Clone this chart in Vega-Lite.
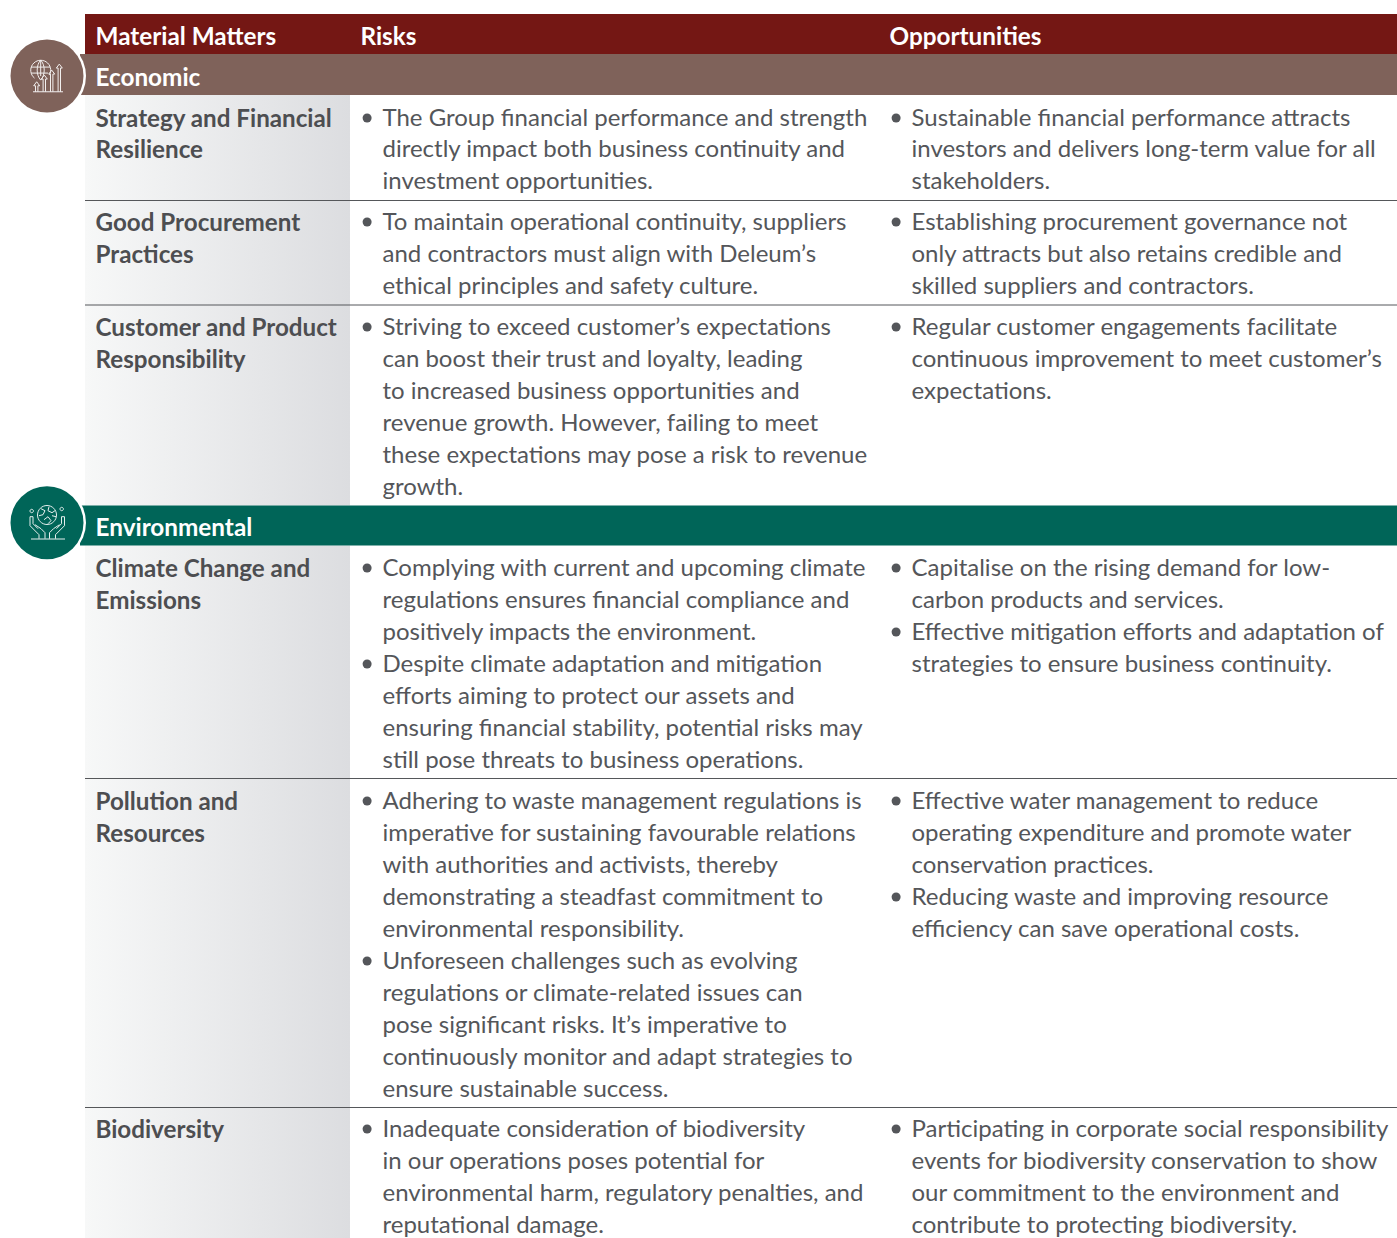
{
"$schema":"https://vega.github.io/schema/vega-lite/v6.json",
"width":1397,"height":1238,"padding":0,"autosize":{"type":"fit","contains":"padding"},"background":"white",
"config":{"view":{"stroke":null},"text":{"font":"Lato"}},
"datasets":{
"rows":[{"row":"Strategy and Financial Resilience","col":0,"col2":2,"line":1.5,"line2":4.5},{"row":"Good Procurement Practices","col":0,"col2":2,"line":4.5,"line2":7.5},{"row":"Customer and Product Responsibility","col":0,"col2":2,"line":7.5,"line2":13.5},{"row":"Climate Change and Emissions","col":0,"col2":2,"line":14.5,"line2":21.5},{"row":"Pollution and Resources","col":0,"col2":2,"line":21.5,"line2":31.5},{"row":"Biodiversity","col":0,"col2":2,"line":31.5,"line2":35.5}],
"bands":[{"band":"Header","col":0,"col2":7,"line":-0.5,"line2":0.5},{"band":"Economic","col":-0.1,"col2":7,"line":0.5,"line2":1.5},{"band":"Environmental","col":-0.1,"col2":7,"line":13.5,"line2":14.5}],
"rules":[{"col":0,"col2":7,"line":4.5},{"col":0,"col2":7,"line":7.5},{"col":0,"col2":7,"line":21.5},{"col":0,"col2":7,"line":31.5}],
"icons":[{"band":"Economic","col":-1,"line":0.98},{"band":"Environmental","col":-1,"line":13.9}],
"bullets":[{"col":3.3,"line":2},{"col":3.3,"line":5},{"col":3.3,"line":8},{"col":3.3,"line":15},{"col":3.3,"line":18},{"col":3.3,"line":22},{"col":3.3,"line":27},{"col":3.3,"line":32},{"col":5.3,"line":2},{"col":5.3,"line":5},{"col":5.3,"line":8},{"col":5.3,"line":15},{"col":5.3,"line":17},{"col":5.3,"line":22},{"col":5.3,"line":25},{"col":5.3,"line":32}],
"heads":[{"t":"Material Matters","col":1,"line":0},{"t":"Risks","col":3,"line":0},{"t":"Opportunities","col":5,"line":0},{"t":"Economic","col":1,"line":1},{"t":"Environmental","col":1,"line":14}],
"matters":[{"t":"Strategy and Financial","col":1,"line":2},{"t":"Resilience","col":1,"line":3},{"t":"Good Procurement","col":1,"line":5},{"t":"Practices","col":1,"line":6},{"t":"Customer and Product","col":1,"line":8},{"t":"Responsibility","col":1,"line":9},{"t":"Climate Change and","col":1,"line":15},{"t":"Emissions","col":1,"line":16},{"t":"Pollution and","col":1,"line":22},{"t":"Resources","col":1,"line":23},{"t":"Biodiversity","col":1,"line":32}],
"body":[
{"t":"The Group financial performance and strength","col":4,"line":2},{"t":"directly impact both business continuity and","col":4,"line":3},{"t":"investment opportunities.","col":4,"line":4},
{"t":"To maintain operational continuity, suppliers","col":4,"line":5},{"t":"and contractors must align with Deleum’s","col":4,"line":6},{"t":"ethical principles and safety culture.","col":4,"line":7},
{"t":"Striving to exceed customer’s expectations","col":4,"line":8},{"t":"can boost their trust and loyalty, leading","col":4,"line":9},{"t":"to increased business opportunities and","col":4,"line":10},{"t":"revenue growth. However, failing to meet","col":4,"line":11},{"t":"these expectations may pose a risk to revenue","col":4,"line":12},{"t":"growth.","col":4,"line":13},
{"t":"Complying with current and upcoming climate","col":4,"line":15},{"t":"regulations ensures financial compliance and","col":4,"line":16},{"t":"positively impacts the environment.","col":4,"line":17},{"t":"Despite climate adaptation and mitigation","col":4,"line":18},{"t":"efforts aiming to protect our assets and","col":4,"line":19},{"t":"ensuring financial stability, potential risks may","col":4,"line":20},{"t":"still pose threats to business operations.","col":4,"line":21},
{"t":"Adhering to waste management regulations is","col":4,"line":22},{"t":"imperative for sustaining favourable relations","col":4,"line":23},{"t":"with authorities and activists, thereby","col":4,"line":24},{"t":"demonstrating a steadfast commitment to","col":4,"line":25},{"t":"environmental responsibility.","col":4,"line":26},{"t":"Unforeseen challenges such as evolving","col":4,"line":27},{"t":"regulations or climate-related issues can","col":4,"line":28},{"t":"pose significant risks. It’s imperative to","col":4,"line":29},{"t":"continuously monitor and adapt strategies to","col":4,"line":30},{"t":"ensure sustainable success.","col":4,"line":31},
{"t":"Inadequate consideration of biodiversity","col":4,"line":32},{"t":"in our operations poses potential for","col":4,"line":33},{"t":"environmental harm, regulatory penalties, and","col":4,"line":34},{"t":"reputational damage.","col":4,"line":35},
{"t":"Sustainable financial performance attracts","col":6,"line":2},{"t":"investors and delivers long-term value for all","col":6,"line":3},{"t":"stakeholders.","col":6,"line":4},
{"t":"Establishing procurement governance not","col":6,"line":5},{"t":"only attracts but also retains credible and","col":6,"line":6},{"t":"skilled suppliers and contractors.","col":6,"line":7},
{"t":"Regular customer engagements facilitate","col":6,"line":8},{"t":"continuous improvement to meet customer’s","col":6,"line":9},{"t":"expectations.","col":6,"line":10},
{"t":"Capitalise on the rising demand for low-","col":6,"line":15},{"t":"carbon products and services.","col":6,"line":16},{"t":"Effective mitigation efforts and adaptation of","col":6,"line":17},{"t":"strategies to ensure business continuity.","col":6,"line":18},
{"t":"Effective water management to reduce","col":6,"line":22},{"t":"operating expenditure and promote water","col":6,"line":23},{"t":"conservation practices.","col":6,"line":24},{"t":"Reducing waste and improving resource","col":6,"line":25},{"t":"efficiency can save operational costs.","col":6,"line":26},
{"t":"Participating in corporate social responsibility","col":6,"line":32},{"t":"events for biodiversity conservation to show","col":6,"line":33},{"t":"our commitment to the environment and","col":6,"line":34},{"t":"contribute to protecting biodiversity.","col":6,"line":35}
]
},
"encoding":{
"x":{"field":"col","type":"quantitative","axis":null,"scale":{"domain":[-1,-0.1,0,1,2,3,4,5,6,7],"range":[47,80,85,95.5,350,360.5,382.5,889.5,911.5,1397],"nice":false,"zero":false}},
"y":{"field":"line","type":"quantitative","axis":null,"scale":{"domain":[-0.5,0,0.5,1,1.5,2,3,4,4.5,5,6,7,7.5,8,9,10,11,12,13,13.5,14,14.5,15,16,17,18,19,20,21,21.5,22,23,24,25,26,27,28,29,30,31,31.5,32,33,34,35,35.5],"range":[14,36,54,77,95,118,149,181,200.5,222,254,286,305,327,359,391,423,455,487,505.5,527,545.5,568,600,632,664,696,728,760,778.5,801,833,865,897,929,961,993,1025,1057,1089,1107.5,1129,1161,1193,1225,1238],"nice":false,"zero":false}}
},
"layer":[
{"data":{"name":"rows"},"mark":{"type":"rect","fill":{"gradient":"linear","x1":0,"y1":0,"x2":1,"y2":0,"stops":[{"offset":0,"color":"#f7f8f8"},{"offset":1,"color":"#dcdde0"}]}},"encoding":{"x2":{"field":"col2"},"y2":{"field":"line2"}}},
{"data":{"name":"bands"},"mark":{"type":"rect"},"encoding":{"x2":{"field":"col2"},"y2":{"field":"line2"},"color":{"field":"band","type":"nominal","legend":null,"scale":{"domain":["Header","Economic","Environmental"],"range":["#741714","#7f625a","#006558"]}}}},
{"data":{"name":"rules"},"mark":{"type":"rule","color":"#55575a","strokeWidth":1},"encoding":{"x2":{"field":"col2"}}},
{"data":{"name":"icons"},"mark":{"type":"circle","size":6084,"color":"white","opacity":1}},
{"data":{"name":"icons"},"mark":{"type":"circle","size":5329,"opacity":1},"encoding":{"color":{"field":"band","type":"nominal","legend":null,"scale":{"domain":["Header","Economic","Environmental"],"range":["#741714","#7f625a","#006558"]}}}},
{"data":{"name":"icons"},"transform":[{"filter":"datum.band==='Economic'"}],"mark":{"type":"point","filled":false,"opacity":0.9,"stroke":"white","strokeWidth":1,"size":4,"shape":"M-12.5 2A10 10 0 1 1 2.5 -1M-6.3 -16C-11 -11 -11 -1 -6.3 4M-6.3 -16C-1.6 -11 -1.6 -1 -6.3 4M-6.3 -16L-6.3 0M-16 -9L3 -9M-16 -3L1 -3M-11.5 15.7L-11.5 9.7L-13.3 9.7L-10.3 5.7L-7.3 9.7L-9.1 9.7L-9.1 15.7M-3.9 15.7L-3.9 3L-5.7 3L-2.7 -1L0.3 3L-1.5 3L-1.5 15.7M3.5 15.7L3.5 -2L1.7 -2L4.7 -6L7.7 -2L5.9 -2L5.9 15.7M11.1 15.7L11.1 -8L9.3 -8L12.3 -12L15.3 -8L13.5 -8L13.5 15.7M-14 15.7L16 15.7"}},
{"data":{"name":"icons"},"transform":[{"filter":"datum.band==='Environmental'"}],"mark":{"type":"point","filled":false,"opacity":0.9,"stroke":"white","strokeWidth":1,"size":4,"shape":"M-9.5 -7.7A9.5 9.5 0 1 1 9.5 -7.7A9.5 9.5 0 1 1 -9.5 -7.7M-6 -14L-2 -12L-4 -8L-8 -7M2 -16L1 -12L5 -10L8 -12M-3 -3L1 -6L4 -2L1 1M5 -7L9 -6M-17 -6L-17 3L-8 12L-8 16M-14 -6L-14 1L-9 6M-17 -6L-14 -6M-12 2L-6 6L-2 10L-2 16M17.5 -6L17.5 3L8.5 12L8.5 16M14.5 -6L14.5 1L9.5 6M17.5 -6L14.5 -6M12.5 2L6.5 6L2.5 10L2.5 16M-16 16.3L18 16.3M-17 -11.7A1.7 1.7 0 1 1 -13.6 -11.7A1.7 1.7 0 1 1 -17 -11.7M13 -13.7A1.7 1.7 0 1 1 16.4 -13.7A1.7 1.7 0 1 1 13 -13.7"}},
{"data":{"name":"bullets"},"mark":{"type":"circle","size":81,"color":"#54565a","opacity":1}},
{"data":{"name":"heads"},"mark":{"type":"text","align":"left","baseline":"middle","dy":2,"font":"Lato","fontWeight":"bold","fontSize":24.3,"color":"white"},"encoding":{"text":{"field":"t"}}},
{"data":{"name":"matters"},"mark":{"type":"text","align":"left","baseline":"middle","dy":2,"font":"Lato","fontWeight":"bold","fontSize":24.2,"color":"#4d4e51"},"encoding":{"text":{"field":"t"}}},
{"data":{"name":"body"},"mark":{"type":"text","align":"left","baseline":"middle","dy":1,"font":"Lato","fontSize":24,"color":"#54565a"},"encoding":{"text":{"field":"t"}}}
]
}
